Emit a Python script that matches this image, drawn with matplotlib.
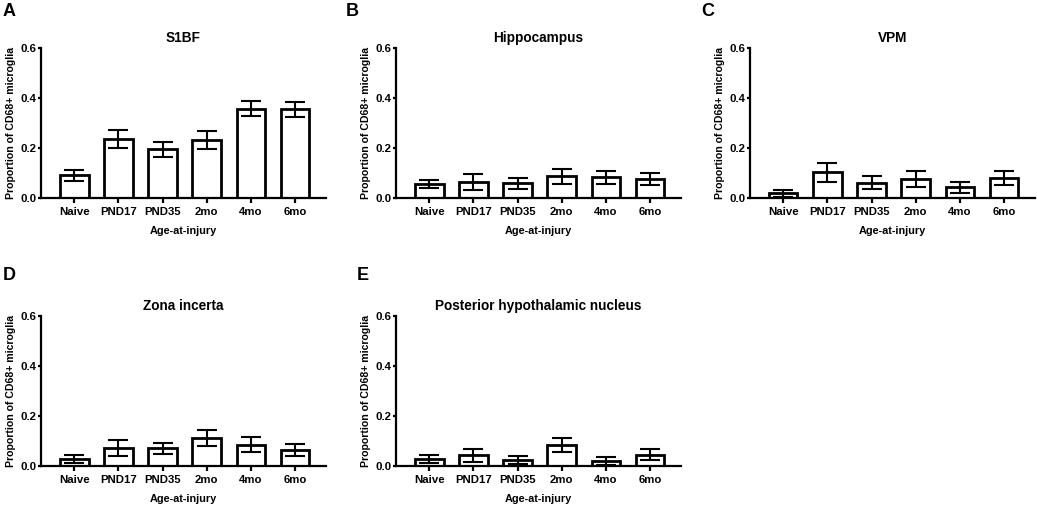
import matplotlib
matplotlib.use("Agg")
import matplotlib.pyplot as plt
import numpy as np

plt.rcParams['font.family'] = ['Liberation Sans', 'DejaVu Sans']
plt.rcParams['font.weight'] = 'bold'

categories = ["Naive", "PND17", "PND35", "2mo", "4mo", "6mo"]

titles = ["S1BF", "Hippocampus", "VPM", "Zona incerta", "Posterior hypothalamic nucleus"]
letters = ["A", "B", "C", "D", "E"]

s1bf_mean = [0.091, 0.238, 0.196, 0.234, 0.358, 0.355]
s1bf_err = [0.022, 0.036, 0.030, 0.036, 0.031, 0.030]
hippo_mean = [0.056, 0.064, 0.059, 0.087, 0.083, 0.075]
hippo_err = [0.017, 0.031, 0.021, 0.029, 0.026, 0.024]
vpm_mean = [0.019, 0.104, 0.061, 0.075, 0.043, 0.080]
vpm_err = [0.014, 0.038, 0.026, 0.032, 0.023, 0.027]
zi_mean = [0.030, 0.071, 0.071, 0.112, 0.086, 0.065]
zi_err = [0.016, 0.032, 0.023, 0.033, 0.029, 0.024]
phn_mean = [0.027, 0.044, 0.024, 0.084, 0.020, 0.046]
phn_err = [0.016, 0.026, 0.017, 0.029, 0.016, 0.021]

means = [s1bf_mean, hippo_mean, vpm_mean, zi_mean, phn_mean]
errs = [s1bf_err, hippo_err, vpm_err, zi_err, phn_err]

W, H = 1037, 508
fig = plt.figure(figsize=(W / 100, H / 100), dpi=100)

# axes positions in pixels: (left, top_of_axes)
lefts = [41, 396, 750, 41, 396]
tops = [48, 48, 48, 316, 316]
aw, ah = 285, 150
letter_pos = [(9, 12), (352, 12), (708, 12), (9, 275), (363, 275)]

x = np.arange(len(categories))
for i in range(5):
    l, t = lefts[i], tops[i]
    ax = fig.add_axes([l / W, (H - t - ah) / H, aw / W, ah / H])
    ax.bar(x, means[i], width=0.65, color='white', edgecolor='black', linewidth=2.0, zorder=2)
    ax.errorbar(x, means[i], yerr=errs[i], fmt='none', ecolor='black', elinewidth=1.5,
                capsize=7, capthick=1.5, zorder=3)
    ax.set_xlim(-0.75, 5.7)
    ax.set_ylim(0, 0.6)
    ax.set_yticks([0.0, 0.2, 0.4, 0.6])
    ax.set_yticklabels(["0.0", "0.2", "0.4", "0.6"])
    ax.set_xticks(x)
    ax.set_xticklabels(categories)
    for side in ['top', 'right']:
        ax.spines[side].set_visible(False)
    for side in ['left', 'bottom']:
        ax.spines[side].set_linewidth(1.6)
    ax.tick_params(axis='both', labelsize=8.2, width=1.6)
    ax.tick_params(axis='y', length=2.5, pad=1.0)
    ax.tick_params(axis='x', length=3.8, pad=3.0)
    for lab in ax.get_xticklabels() + ax.get_yticklabels():
        lab.set_fontweight('bold')
    ax.set_ylabel("Proportion of CD68+ microglia", fontsize=7.6, fontweight='bold')
    ax.yaxis.set_label_coords(-0.088, 0.5)
    ax.set_xlabel("Age-at-injury", fontsize=7.8, fontweight='bold')
    ax.xaxis.set_label_coords(0.5, -0.19)
    ax.set_title(titles[i], fontsize=9.8, fontweight='bold', pad=4)
    lx, ly = letter_pos[i]
    fig.text(lx / W, 1 - ly / H, letters[i], fontsize=13, fontweight='bold',
             ha='center', va='center')

fig.savefig("out.png", dpi=100, facecolor='white')
